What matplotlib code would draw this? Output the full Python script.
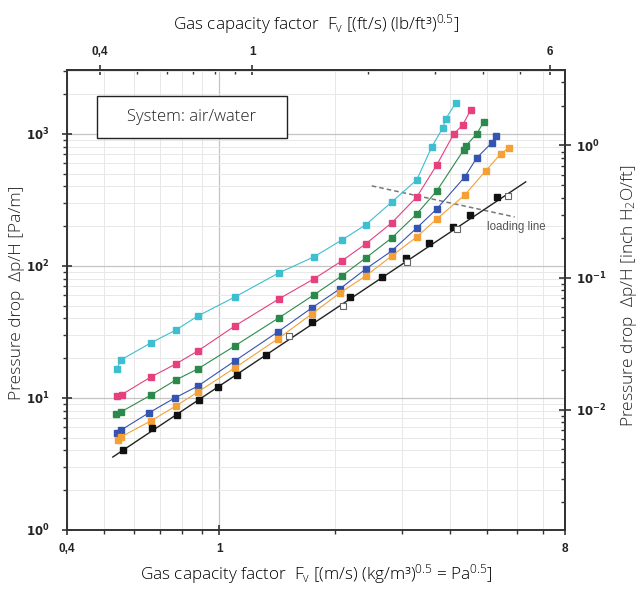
"""Pressure drop vs gas capacity factor, air/water system."""

import matplotlib

matplotlib.use("Agg")
import matplotlib.pyplot as plt
from matplotlib.patches import Rectangle
from matplotlib.ticker import FixedLocator, FixedFormatter, NullFormatter

plt.rcParams["font.family"] = ["Open Sans", "DejaVu Sans"]
plt.rcParams["text.color"] = "#222222"

# gas capacity factor F [Pa^0.5] and pressure drop [Pa/m], one pair per curve
cyan_f = [0.540, 0.553, 0.662, 0.770, 0.879, 1.098, 1.430, 1.765, 2.088, 2.413,
          2.821, 3.280, 3.588, 3.834, 3.904, 4.146]
cyan_dp = [16.6, 19.4, 26.1, 32.7, 41.8, 58.2, 88.5, 117, 157, 205,
           305, 449, 797, 1110, 1300, 1718]

magenta_f = [0.540, 0.556, 0.662, 0.770, 0.879, 1.098, 1.430, 1.765, 2.088,
             2.413, 2.821, 3.280, 3.698, 4.096, 4.324, 4.536]
magenta_dp = [10.3, 10.6, 14.4, 18.1, 22.7, 35.1, 56.2, 79.7, 109,
              147, 212, 333, 582, 1000, 1170, 1520]

green_f = [0.537, 0.553, 0.662, 0.770, 0.879, 1.098, 1.430, 1.765, 2.088,
           2.413, 2.821, 3.280, 3.698, 4.350, 4.402, 4.703, 4.905]
green_dp = [7.56, 7.83, 10.5, 13.7, 16.6, 24.8, 40.4, 60.3, 84.0,
            115, 163, 248, 370, 757, 811, 1000, 1233]

blue_f = [0.540, 0.553, 0.654, 0.765, 0.879, 1.098, 1.421, 1.744, 2.064, 2.413,
          2.821, 3.280, 3.698, 4.376, 4.703, 5.146, 5.271]
blue_dp = [5.4, 5.7, 7.70, 10.0, 12.3, 19.1, 31.6, 48.1, 67.0, 94.9,
           130, 194, 270, 472, 658, 855, 966]

orange_f = [0.543, 0.553, 0.662, 0.770, 0.879, 1.098, 1.421, 1.744, 2.064,
            2.413, 2.821, 3.280, 3.698, 4.376, 4.964, 5.432, 5.699]
orange_dp = [4.81, 5.07, 6.69, 8.70, 11.1, 16.9, 28.0, 43.3, 62.4,
             84.0, 119, 166, 227, 345, 525, 705, 784]

black_f = [0.560, 0.666, 0.774, 0.884, 0.991, 1.111, 1.322, 1.744, 2.191,
           2.657, 3.069, 3.524, 4.072, 4.509, 5.303]
black_dp = [4.04, 5.93, 7.43, 9.66, 12.1, 14.9, 21.2, 37.7, 58.2,
            82.5, 115, 149, 197, 243, 333]

# straight dry line under the black points
black_line_f = [0.527, 6.314]
black_line_dp = [3.57, 433]

open_f = [1.519, 2.101, 3.088, 4.171, 5.665]
open_dp = [29.5, 49.8, 107, 191, 339]

loading_f = [2.502, 5.908]
loading_dp = [404, 235]

series = [
    (cyan_f, cyan_dp, "#3dbfd0"),
    (magenta_f, magenta_dp, "#e6407e"),
    (green_f, green_dp, "#2b8a4b"),
    (blue_f, blue_dp, "#3553b0"),
    (orange_f, orange_dp, "#f4a034"),
]

x_ticks = [0.4, 1, 8]
x_tick_labels = ["0,4", "1", "8"]
top_ticks = [0.4, 1, 6]
top_tick_labels = ["0,4", "1", "6"]

SI_PER_IMPERIAL_F = 0.3048 * 16.0185 ** 0.5
PA_PER_M_PER_INCH_FT = 249.089 / 0.3048

tick_font = dict(family="Liberation Sans", weight="bold", size=8.5,
                 color="#222222")
label_size = 12.3

fig = plt.figure(figsize=(6.41, 5.89), dpi=100)
ax = fig.add_axes([0.1045, 0.1002, 0.777, 0.781])
ax.set_xscale("log")
ax.set_yscale("log")
ax.set_xlim(0.4, 8)
ax.set_ylim(1, 3050)

ax.grid(True, which="major", color="#c4c4c4", lw=0.9)
ax.grid(True, which="minor", color="#e8e8e8", lw=0.7)
ax.set_axisbelow(True)

for f, dp, color in series:
    ax.plot(f, dp, "-s", color=color, lw=0.8, ms=4.3, mec=color, zorder=3)

ax.plot(black_line_f, black_line_dp, "-", color="#222222", lw=1.0, zorder=3)
ax.plot(black_f, black_dp, "s", color="#111111", ms=4.3, ls="none", zorder=4)
ax.plot(open_f, open_dp, "s", mfc="white", mec="#666666", mew=0.8, ms=4.3,
        ls="none", zorder=4)

ax.plot(loading_f, loading_dp, "--", color="#777777", lw=1.1, dashes=(3, 2),
        zorder=2)
ax.text(4.99, 197, "loading line", fontsize=8.3, color="#555555",
        family="Liberation Sans", va="center", ha="left")

ax.add_patch(Rectangle((0.060, 0.852), 0.382, 0.0915, transform=ax.transAxes,
                       facecolor="white", edgecolor="#222222", lw=1.0,
                       zorder=5))
ax.text(0.251, 0.898, "System: air/water", transform=ax.transAxes,
        fontsize=12, fontweight="light", ha="center", va="center", zorder=6)

ax.xaxis.set_major_locator(FixedLocator(x_ticks))
ax.xaxis.set_major_formatter(FixedFormatter(x_tick_labels))
ax.xaxis.set_minor_locator(FixedLocator([0.5, 0.6, 0.7, 0.8, 0.9,
                                         2, 3, 4, 5, 6, 7]))
ax.xaxis.set_minor_formatter(NullFormatter())
ax.yaxis.set_major_locator(FixedLocator([1, 10, 100, 1000]))
ax.yaxis.set_major_formatter(FixedFormatter(
    ["$\\mathbf{10^0}$", "$\\mathbf{10^1}$", "$\\mathbf{10^2}$",
     "$\\mathbf{10^3}$"]))

for spine in ax.spines.values():
    spine.set_color("#333333")
    spine.set_linewidth(1.4)

ax.tick_params(which="major", direction="inout", length=7, width=1.2,
               color="#333333", pad=6)
ax.tick_params(which="minor", direction="out", length=3, width=1.0,
               color="#333333")
ax.tick_params(axis="y", which="major", pad=9)
for label in ax.get_xticklabels() + ax.get_yticklabels():
    label.set(**tick_font)

top = ax.secondary_xaxis("top", functions=(lambda x: x / SI_PER_IMPERIAL_F,
                                           lambda x: x * SI_PER_IMPERIAL_F))
top.xaxis.set_major_locator(FixedLocator(top_ticks))
top.xaxis.set_major_formatter(FixedFormatter(top_tick_labels))
top.xaxis.set_minor_locator(FixedLocator([0.5, 0.6, 0.7, 0.8, 0.9,
                                          2, 3, 4, 5]))
top.xaxis.set_minor_formatter(NullFormatter())
top.tick_params(which="major", direction="inout", length=7, width=1.2,
                color="#333333", pad=5)
top.tick_params(which="minor", direction="in", length=3, width=1.0,
                color="#333333")
top.spines["top"].set_linewidth(1.4)
top.spines["top"].set_color("#333333")
for label in top.get_xticklabels():
    label.set(**tick_font)

right = ax.secondary_yaxis("right", functions=(
    lambda y: y / PA_PER_M_PER_INCH_FT, lambda y: y * PA_PER_M_PER_INCH_FT))
right.yaxis.set_major_locator(FixedLocator([0.01, 0.1, 1]))
right.yaxis.set_major_formatter(FixedFormatter(
    ["$\\mathbf{10^{-2}}$", "$\\mathbf{10^{-1}}$", "$\\mathbf{10^0}$"]))
right.yaxis.set_minor_locator(FixedLocator(
    [m * 10.0 ** e for e in (-3, -2, -1, 0) for m in range(2, 10)]))
right.yaxis.set_minor_formatter(NullFormatter())
right.tick_params(which="major", direction="inout", length=8, width=1.2,
                  color="#333333", pad=4)
right.tick_params(which="minor", direction="in", length=3, width=1.0,
                  color="#333333")
right.spines["right"].set_linewidth(1.4)
right.spines["right"].set_color("#333333")
for label in right.get_yticklabels():
    label.set(**tick_font)

ax.set_xlabel("Gas capacity factor  $\\mathregular{F_v}$ [(m/s) (kg/m³)"
              "$\\mathregular{^{0.5}}$ = Pa$\\mathregular{^{0.5}}$]",
              fontsize=label_size, fontweight="light", labelpad=5)
top.set_xlabel("Gas capacity factor  $\\mathregular{F_v}$ [(ft/s) (lb/ft³)"
               "$\\mathregular{^{0.5}}$]", fontsize=label_size,
               fontweight="light", labelpad=12)

fig.text(17.5 / 641, 1 - 293 / 589, "Pressure drop  Δp/H [Pa/m]",
         fontsize=12.5, fontweight="light", rotation=90, ha="center",
         va="center")
fig.text(629 / 641, 1 - 296 / 589,
         "Pressure drop  Δp/H [inch $\\mathregular{H_2}$O/ft]",
         fontsize=12.5, fontweight="light", rotation=90, ha="center",
         va="center")

fig.savefig("out.png", dpi=100)
